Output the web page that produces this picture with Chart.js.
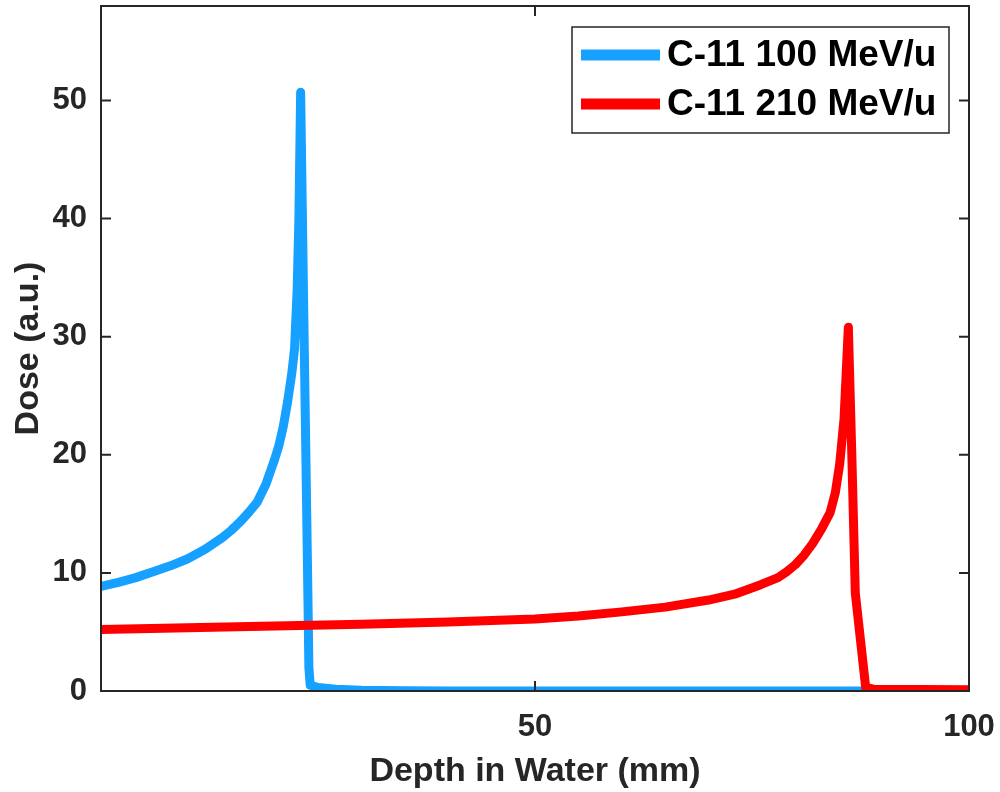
<!DOCTYPE html>
<html>
<head>
<meta charset="utf-8">
<script src="https://cdn.jsdelivr.net/npm/chart.js@4.4.1/dist/chart.umd.min.js"></script>
<style>
  html, body { margin: 0; padding: 0; background: #fff; }
  #wrap { width: 1000px; height: 792px; }
</style>
</head>
<body>
<div id="wrap"><canvas id="doseChart" width="1000" height="792"></canvas></div>
<script>
// Curvas de dosis (profundidad en mm, dosis en u.a.)
const blueLabel = "C-11 100 MeV/u";
const blueX = [0, 2, 4, 6, 8, 10, 12, 14, 15, 16, 17, 18, 19, 20, 20.5, 21, 21.5, 22, 22.3, 22.6, 22.8, 23.0, 23.4, 23.6, 23.8, 23.95, 24.1, 25, 27, 30, 35, 40, 100];
const blueY = [8.85, 9.2, 9.6, 10.1, 10.6, 11.2, 12.0, 13.0, 13.6, 14.3, 15.1, 16.0, 17.5, 19.6, 20.8, 22.4, 24.5, 27.0, 29.0, 34, 40, 50.7, 30, 20, 10, 2, 0.5, 0.3, 0.15, 0.07, 0.02, 0, 0];

const redLabel = "C-11 210 MeV/u";
const redX = [0, 10, 20, 30, 40, 50, 55, 60, 65, 70, 73, 76, 78, 79, 80, 81, 82, 83, 84, 84.6, 85.1, 85.6, 86.1, 86.5, 86.9, 88.1, 89, 100];
const redY = [5.2, 5.35, 5.5, 5.65, 5.85, 6.1, 6.35, 6.7, 7.1, 7.7, 8.2, 9.0, 9.6, 10.1, 10.7, 11.5, 12.5, 13.7, 15.1, 16.8, 19.2, 23, 30.8, 20, 8.3, 0.3, 0.15, 0.1];

// Marcas de los ejes
const xTicks = [50, 100];
const yTicks = [0, 10, 20, 30, 40, 50];

const ejeColor = '#262626';
const fuente = 'Liberation Sans, Arial, sans-serif';

function puntos(xs, ys) {
    return xs.map((x, i) => ({ x: x, y: ys[i] }));
}

// Caja, marcas hacia adentro y leyenda
const cajaPlugin = {
    id: 'caja',
    afterDraw(chart) {
        const ctx = chart.ctx;
        const a = chart.chartArea;
        const xs = chart.scales.x;
        const ys = chart.scales.y;
        ctx.save();
        ctx.strokeStyle = ejeColor;
        ctx.lineWidth = 2;
        ctx.strokeRect(a.left, a.top, a.right - a.left, a.bottom - a.top);
        ctx.beginPath();
        yTicks.forEach(v => {
            const p = ys.getPixelForValue(v);
            ctx.moveTo(a.left, p); ctx.lineTo(a.left + 10, p);
            ctx.moveTo(a.right, p); ctx.lineTo(a.right - 10, p);
        });
        xTicks.forEach(v => {
            const p = xs.getPixelForValue(v);
            ctx.moveTo(p, a.bottom); ctx.lineTo(p, a.bottom - 10);
            ctx.moveTo(p, a.top); ctx.lineTo(p, a.top + 10);
        });
        ctx.stroke();

        // Leyenda
        const lx = 572, ly = 27, lw = 377, lh = 106;
        ctx.fillStyle = '#fff';
        ctx.fillRect(lx, ly, lw, lh);
        ctx.lineWidth = 1.5;
        ctx.strokeStyle = ejeColor;
        ctx.strokeRect(lx, ly, lw, lh);
        const filas = [55, 104];
        chart.data.datasets.forEach((ds, i) => {
            const y = filas[i];
            ctx.strokeStyle = ds.borderColor;
            ctx.lineWidth = 11;
            ctx.lineCap = 'butt';
            ctx.beginPath();
            ctx.moveTo(581, y); ctx.lineTo(660, y);
            ctx.stroke();
            ctx.fillStyle = '#000';
            ctx.font = 'bold 37px ' + fuente;
            ctx.textAlign = 'left';
            ctx.textBaseline = 'middle';
            ctx.fillText(ds.label, 667, y + 1);
        });
        ctx.restore();
    }
};

const ctx = document.getElementById('doseChart').getContext('2d');
const doseChart = new Chart(ctx, {
    type: 'scatter',
    data: {
        datasets: [{
            label: blueLabel,
            data: puntos(blueX, blueY),
            borderColor: '#16A0FF',
            showLine: true,
            borderWidth: 9,
            pointRadius: 0,
            tension: 0,
            borderJoinStyle: 'round',
            borderCapStyle: 'round',
            order: 2
        }, {
            label: redLabel,
            data: puntos(redX, redY),
            borderColor: '#FF0000',
            showLine: true,
            borderWidth: 9,
            pointRadius: 0,
            tension: 0,
            borderJoinStyle: 'round',
            borderCapStyle: 'round',
            order: 1
        }]
    },
    options: {
        responsive: false,
        animation: false,
        layout: { padding: { top: 6, right: 31, left: 0, bottom: 0 } },
        plugins: {
            legend: { display: false },
            tooltip: { enabled: false }
        },
        scales: {
            x: {
                type: 'linear',
                min: 0,
                max: 100,
                afterFit: s => {
                    s.height = 101;
                    s.paddingLeft = 0; s.paddingRight = 0;
                },
                afterBuildTicks: s => { s.ticks = xTicks.map(v => ({ value: v })); },
                grid: { display: false },
                border: { display: false },
                ticks: {
                    color: ejeColor,
                    padding: 10,
                    maxRotation: 0,
                    font: { family: fuente, size: 31, weight: 'bold' }
                },
                title: {
                    display: true,
                    text: 'Depth in Water (mm)',
                    color: ejeColor,
                    padding: { top: 0, bottom: 0 },
                    font: { family: fuente, size: 34, weight: 'bold' }
                }
            },
            y: {
                type: 'linear',
                min: 0,
                max: 58,
                afterFit: s => {
                    s.width = 101;
                    s.paddingTop = 0; s.paddingBottom = 0;
                },
                afterBuildTicks: s => { s.ticks = yTicks.map(v => ({ value: v })); },
                grid: { display: false },
                border: { display: false },
                ticks: {
                    color: ejeColor,
                    padding: 6,
                    font: { family: fuente, size: 31, weight: 'bold' }
                },
                title: {
                    display: true,
                    text: 'Dose (a.u.)',
                    color: ejeColor,
                    padding: { top: 8, bottom: 0 },
                    font: { family: fuente, size: 34, weight: 'bold' }
                }
            }
        }
    },
    plugins: [cajaPlugin]
});
</script>
</body>
</html>
